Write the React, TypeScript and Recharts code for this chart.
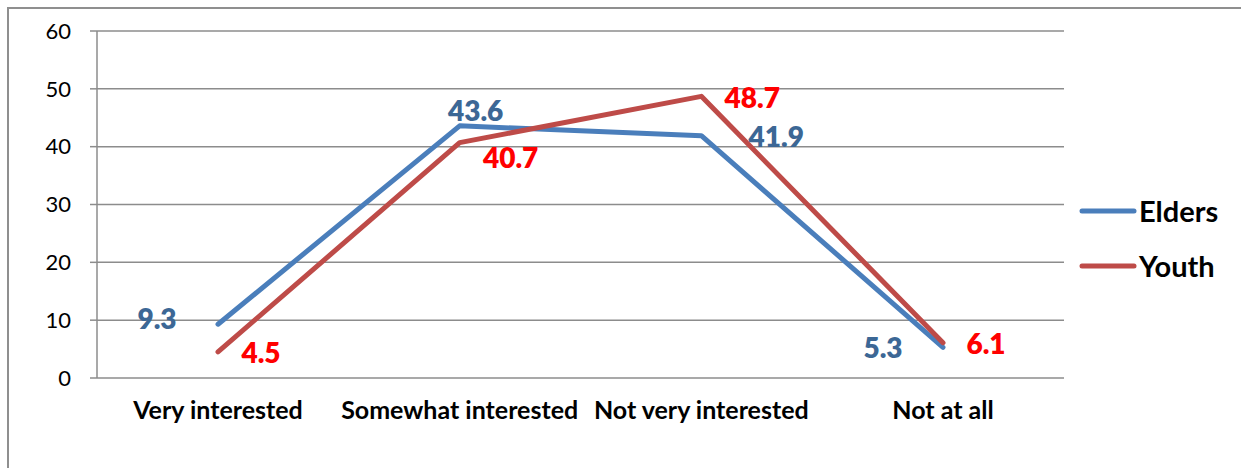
import React from "react";
import { LineChart, Line, XAxis, YAxis, CartesianGrid, Legend, LabelList } from "recharts";

const categories = ["Very interested", "Somewhat interested", "Not very interested", "Not at all"];
const elders = [9.3, 43.6, 41.9, 5.3];
const youth = [4.5, 40.7, 48.7, 6.1];
const yTicks = [0, 10, 20, 30, 40, 50, 60];
const edgeTicks = [0, 1, 2, 3, 4];

const data = categories.map((c, i) => ({ category: c, Elders: elders[i], Youth: youth[i] }));

const FONT = "Lato, 'Open Sans', sans-serif";
const GRID = "#8c8c8c";

// label centre relative to its point
const elderLabelPos = [
  { dx: -61, dy: -5 },
  { dx: 16, dy: -15 },
  { dx: 75, dy: 1 },
  { dx: -60, dy: 1 },
];
const youthLabelPos = [
  { dx: 43, dy: 1 },
  { dx: 51, dy: 15 },
  { dx: 51, dy: 2 },
  { dx: 43, dy: 1 },
];

const makeLabel = (pos: { dx: number; dy: number }[], color: string) => (props: any) => {
  const { x, y, value, index } = props;
  const p = pos[index];
  return (
    <text
      x={x + p.dx}
      y={y + p.dy + 10}
      textAnchor="middle"
      fill={color}
      fontSize={28}
      fontWeight={800}
      fontFamily={FONT}
    >
      {value}
    </text>
  );
};

const legendItems = [
  { name: "Elders", color: "#4a7ebb" },
  { name: "Youth", color: "#be4b48" },
];

const LegendBox = () => (
  <div style={{ fontFamily: FONT }}>
    {legendItems.map((it) => (
      <div key={it.name} style={{ display: "flex", alignItems: "center", height: 55 }}>
        <svg width={60} height={10}>
          <line x1={4} y1={5} x2={56} y2={5} stroke={it.color} strokeWidth={5} strokeLinecap="round" />
        </svg>
        <span style={{ fontSize: 29, fontWeight: "bold", color: "#000", marginLeft: 1 }}>{it.name}</span>
      </div>
    ))}
  </div>
);

export default function App() {
  return (
    <div style={{ position: "absolute", left: 0, top: 0, width: 1241, height: 468, background: "#fff" }}>
      <div
        style={{
          position: "absolute",
          left: 7,
          top: 7,
          width: 1240,
          height: 470,
          borderLeft: "2px solid #8f8f8f",
          borderTop: "2px solid #8f8f8f",
        }}
      />
      <LineChart
        width={1241}
        height={468}
        data={data}
        margin={{ top: 31, right: 177, bottom: 40, left: 37 }}
        style={{ position: "absolute", left: 0, top: 0, fontFamily: FONT }}
      >
        <CartesianGrid vertical={false} stroke={GRID} strokeWidth={1.5} />
        <XAxis
          dataKey="category"
          axisLine={false}
          tickLine={false}
          height={50}
          tickMargin={17}
          interval={0}
          padding={{ left: 121, right: 121 }}
          tick={{ fill: "#000", fontSize: 25, fontWeight: "bold", fontFamily: FONT }}
        />
        <XAxis
          xAxisId="edges"
          type="number"
          domain={[0, categories.length]}
          ticks={edgeTicks}
          tick={false}
          tickSize={7}
          height={0}
          stroke={GRID}
          axisLine={{ stroke: GRID, strokeWidth: 1.5 }}
          tickLine={{ stroke: GRID, strokeWidth: 1.5 }}
        />
        <YAxis
          domain={[0, 60]}
          ticks={yTicks}
          width={60}
          tickSize={7}
          tickMargin={19}
          axisLine={{ stroke: GRID, strokeWidth: 1.5 }}
          tickLine={{ stroke: GRID, strokeWidth: 1.5 }}
          tick={{ fill: "#000", fontSize: 22, fontFamily: FONT }}
        />
        <Legend
          layout="vertical"
          align="center"
          verticalAlign="middle"
          wrapperStyle={{ left: 1078, top: 183, width: 165 }}
          content={() => <LegendBox />}
        />
        <Line
          dataKey="Elders"
          stroke="#4a7ebb"
          strokeWidth={5}
          dot={false}
          isAnimationActive={false}
          strokeLinecap="round"
          strokeLinejoin="round"
        >
          <LabelList dataKey="Elders" content={makeLabel(elderLabelPos, "#3c6795")} />
        </Line>
        <Line
          dataKey="Youth"
          stroke="#be4b48"
          strokeWidth={5}
          dot={false}
          isAnimationActive={false}
          strokeLinecap="round"
          strokeLinejoin="round"
        >
          <LabelList dataKey="Youth" content={makeLabel(youthLabelPos, "#ff0000")} />
        </Line>
      </LineChart>
    </div>
  );
}
